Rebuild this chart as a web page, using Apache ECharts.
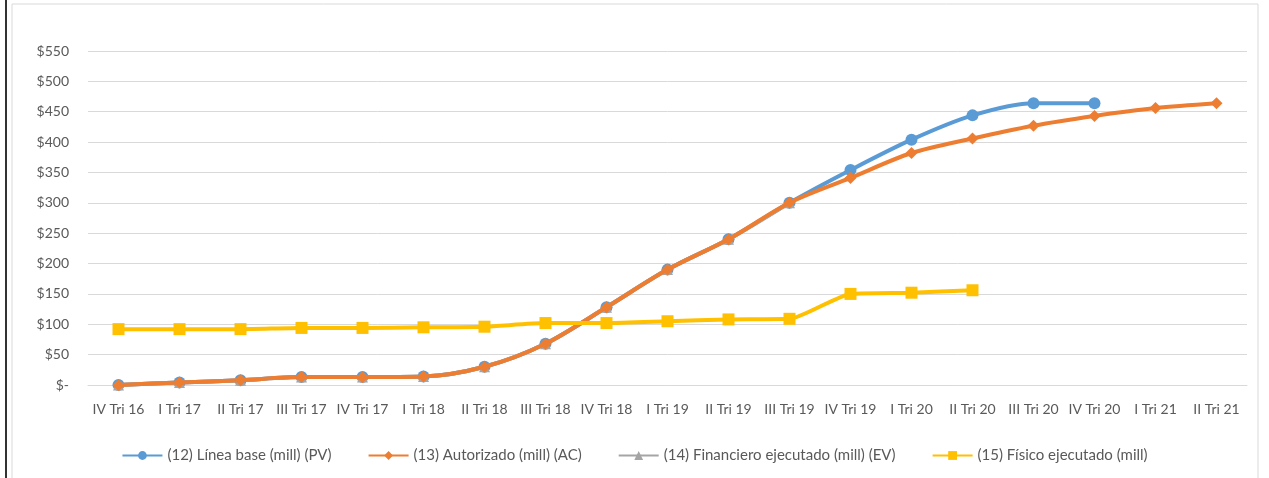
<!DOCTYPE html>
<html>
<head>
<meta charset="utf-8">
<script src="https://cdn.jsdelivr.net/npm/echarts@6/dist/echarts.min.js"></script>
<style>
  html, body { margin: 0; padding: 0; background: #fff; }
  #chart { width: 1269px; height: 478px; }
</style>
</head>
<body>
<div id="chart"></div>
<script>
// trimestres
var categories = ['IV Tri 16','I Tri 17','II Tri 17','III Tri 17','IV Tri 17','I Tri 18','II Tri 18','III Tri 18','IV Tri 18',
    'I Tri 19','II Tri 19','III Tri 19','IV Tri 19','I Tri 20','II Tri 20','III Tri 20','IV Tri 20','I Tri 21','II Tri 21'];

var lineaBase = [0, 4, 8, 13, 13, 14, 30, 68, 128, 190, 240, 300, 354, 404, 444, 464, 464, null, null];
var autorizado = [0, 4, 8, 13, 13, 14, 30, 68, 128, 190, 240, 300, 341, 382, 406, 427, 443, 456, 464];
var financiero = [0, 4, 8, 13, 13, 14, 30, 68, 128, 190, 240, 300, null, null, null, null, null, null, null];
var fisico = [92, 92, 92, 94, 94, 95, 96, 102, 102, 105, 108, 109, 150, 152, 156, null, null, null, null];

var yTicks = [0, 50, 100, 150, 200, 250, 300, 350, 400, 450, 500, 550];

var names = ['(12) Línea base (mill) (PV)', '(13) Autorizado (mill) (AC)', '(14) Financiero ejecutado (mill) (EV)', '(15) Físico ejecutado (mill)'];

var myChart = echarts.init(document.getElementById('chart'));

var fuente = 'Lato, "Open Sans", sans-serif';

var option = {
    backgroundColor: '#fff',
    textStyle: { fontFamily: fuente },
    graphic: [
        { type: 'rect', shape: { x: 12, y: 4, width: 1246, height: 480 }, style: { fill: 'none', stroke: '#d9d9d9', lineWidth: 1 }, silent: true },
        { type: 'line', shape: { x1: 6, y1: 0, x2: 6, y2: 478 }, style: { stroke: '#333', lineWidth: 2 }, silent: true }
    ],
    grid: { left: 88, right: 22, top: 51, bottom: 93 },
    legend: {
        bottom: 10,
        left: 'center',
        itemGap: 36,
        itemWidth: 40,
        itemHeight: 11,
        textStyle: { color: '#595959', fontSize: 15, fontFamily: fuente },
        data: names
    },
    xAxis: {
        type: 'category',
        data: categories,
        boundaryGap: true,
        axisLine: { lineStyle: { color: '#d9d9d9' } },
        axisTick: { show: false },
        axisLabel: { color: '#595959', fontSize: 14, margin: 17, interval: 0 }
    },
    yAxis: {
        type: 'value',
        min: 0,
        max: 550,
        interval: 50,
        axisLine: { show: false },
        axisTick: { show: false },
        splitLine: { lineStyle: { color: '#d9d9d9' } },
        axisLabel: {
            color: '#595959', fontSize: 14, margin: 19,
            formatter: function (v) { return yTicks.indexOf(v) === 0 ? '$-' : '$' + v; }
        }
    },
    series: [
        {
            name: names[0], type: 'line', data: lineaBase, smooth: 0.3, z: 2,
            symbol: 'circle', symbolSize: 12,
            lineStyle: { width: 4, color: '#5B9BD5' }, itemStyle: { color: '#5B9BD5' }
        },
        {
            name: names[1], type: 'line', data: autorizado, smooth: 0.3, z: 4,
            symbol: 'diamond', symbolSize: 12,
            lineStyle: { width: 4, color: '#ED7D31' }, itemStyle: { color: '#ED7D31' }
        },
        {
            name: names[2], type: 'line', data: financiero, smooth: 0.3, z: 3,
            symbol: 'triangle', symbolSize: 11,
            lineStyle: { width: 4, color: '#A5A5A5' }, itemStyle: { color: '#A5A5A5' }
        },
        {
            name: names[3], type: 'line', data: fisico, smooth: 0.2, z: 5,
            symbol: 'rect', symbolSize: 12,
            lineStyle: { width: 4, color: '#FFC000' }, itemStyle: { color: '#FFC000' }
        }
    ]
};

myChart.setOption(option);
</script>
</body>
</html>
